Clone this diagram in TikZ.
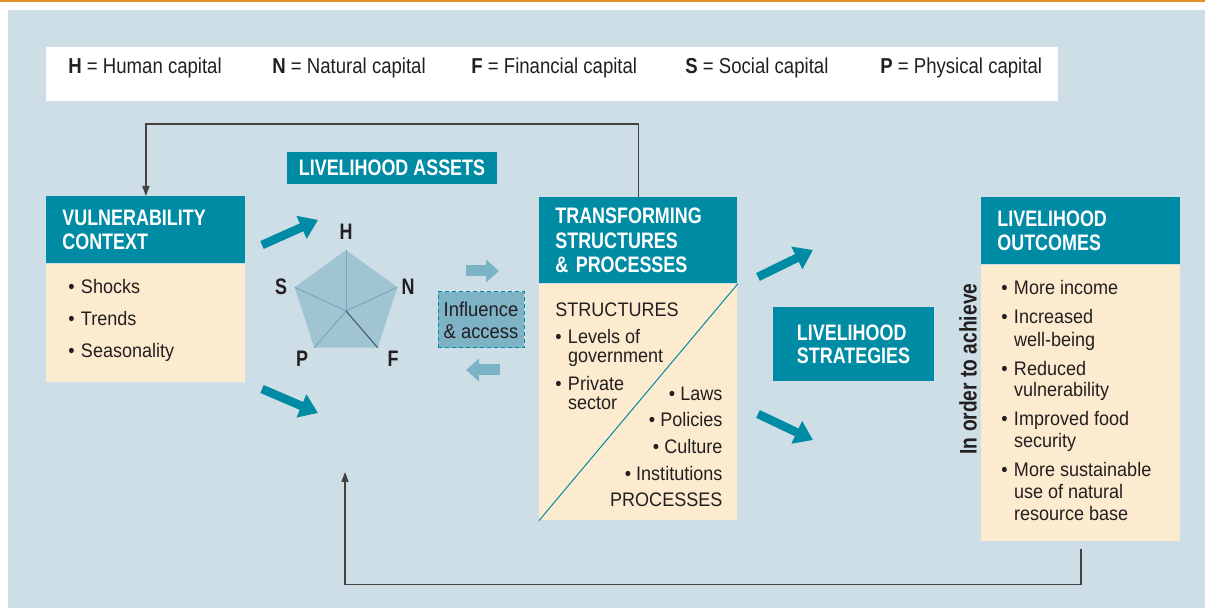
\documentclass[tikz,border=0pt]{standalone}
\usepackage{fontspec}
\setmainfont{Liberation Sans}[FakeStretch=0.92]
\newfontfamily\headfont{Liberation Sans}[FakeStretch=0.8]
\newfontfamily\legfont{Liberation Sans}[FakeStretch=0.86]
\usetikzlibrary{arrows.meta,positioning}

\definecolor{bgblue}{RGB}{205,222,230}
\definecolor{slteal}{RGB}{0,139,165}
\definecolor{cream}{RGB}{253,235,207}
\definecolor{pentfill}{RGB}{161,196,211}
\definecolor{pentline}{RGB}{118,168,189}
\definecolor{lightarr}{RGB}{122,178,198}
\definecolor{inflfill}{RGB}{126,178,197}
\definecolor{topline}{RGB}{231,141,39}
\definecolor{ink}{RGB}{35,31,32}

\newcommand{\bitem}{\makebox[6.3pt][l]{\textbullet}}
\newcommand{\bcont}{\hspace*{6.3pt}}

\begin{document}
\begin{tikzpicture}[x=0.5pt, y=-0.5pt,
    hdr/.style={fill=slteal, text=white, font=\headfont\bfseries\fontsize{11.2}{12.2}\selectfont, align=left, anchor=north west, inner xsep=8pt, inner ysep=0pt},
    body/.style={fill=cream, anchor=north west, inner sep=0pt},
    list/.style={text=ink, align=left, inner sep=0pt, anchor=north west},
    legitem/.style={text=ink, font=\legfont\fontsize{10.8}{12}\selectfont, anchor=base west, inner sep=0pt},
    caplabel/.style={text=ink, font=\headfont\bfseries\fontsize{11.2}{12}\selectfont},
    bigarrow/.style={slteal, line width=4.3pt, -{Triangle[length=9pt,width=12pt]}},
    lightarrow/.style={lightarr, line width=5.5pt, -{Triangle[length=6.5pt,width=11pt]}},
    fb/.style={draw=ink!85, line width=0.75pt, -{Triangle[length=5pt,width=3.5pt]}}]

    \useasboundingbox (0,0) rectangle (1205,608);
    \fill[white] (0,0) rectangle (1205,608);
    \fill[topline] (0,0) rectangle (1205,2.5);
    \fill[bgblue] (8,10) rectangle (1205,608);

    % legend
    \node[fill=white, anchor=north west, minimum width=506pt, minimum height=27pt, inner sep=0pt] (legend) at (46,47) {};
    \node[legitem] (leg-h) at (68,74) {\textbf{H} = Human capital};
    \node[legitem] (leg-n) at (272,74) {\textbf{N} = Natural capital};
    \node[legitem] (leg-f) at (471,74) {\textbf{F} = Financial capital};
    \node[legitem] (leg-s) at (685,74) {\textbf{S} = Social capital};
    \node[legitem] (leg-p) at (880,74) {\textbf{P} = Physical capital};

    % vulnerability context
    \node[hdr, text width=83.5pt, minimum height=33.5pt] (vulhd) at (46,196) {VULNERABILITY\\CONTEXT};
    \node[body, minimum width=99.5pt, minimum height=59pt] (vulbd) at (vulhd.south west) {};
    \node[list, font=\fontsize{9.8}{16}\selectfont] (vullist) at ([xshift=11pt, yshift=-7.8pt]vulbd.north west) {\bitem Shocks\\ \bitem Trends\\ \bitem Seasonality};

    % livelihood assets
    \node[fill=slteal, text=white, font=\headfont\bfseries\fontsize{11.2}{12}\selectfont, minimum width=105pt, minimum height=16pt, inner sep=0pt] (assets) at (392,168) {LIVELIHOOD ASSETS};

    \coordinate (ph) at (346,250);
    \coordinate (pn) at (397.4,287.3);
    \coordinate (pf) at (377.7,347.7);
    \coordinate (pp) at (314.3,347.7);
    \coordinate (ps) at (294.6,287.3);
    \coordinate (pc) at (346,311);
    \fill[pentfill] (ph) -- (pn) -- (pf) -- (pp) -- (ps) -- cycle;
    \draw[pentline, line width=0.5pt] (pc) -- (ph);
    \draw[pentline, line width=0.5pt] (pc) -- (pn);
    \draw[pentline, line width=0.5pt] (pc) -- (pp);
    \draw[pentline, line width=0.5pt] (pc) -- (ps);
    \draw[pentline!60!black, line width=0.6pt] (pc) -- (pf);
    \node[caplabel] (lab-h) at (346,232) {H};
    \node[caplabel] (lab-n) at (408,287) {N};
    \node[caplabel] (lab-f) at (393,359) {F};
    \node[caplabel] (lab-p) at (302,359) {P};
    \node[caplabel] (lab-s) at (281,287) {S};

    % influence and access
    \node[fill=inflfill, draw=slteal, dashed, dash pattern=on 2pt off 1.5pt, line width=0.5pt, minimum width=43pt, minimum height=28pt, inner sep=0pt, align=center, text=ink, font=\fontsize{10}{11}\selectfont] (infl) at (481,320) {Influence\\\& access};
    \coordinate (ia1) at (466,271);
    \coordinate (ia2) at (499,271);
    \coordinate (ib1) at (500,370);
    \coordinate (ib2) at (466,370);
    \draw[lightarrow] (ia1) -- (ia2);
    \draw[lightarrow] (ib1) -- (ib2);

    % transforming structures
    \node[hdr, text width=83pt, minimum height=43pt] (trhd) at (539,197) {TRANSFORMING\\STRUCTURES\\\& PROCESSES};
    \node[body, minimum width=99pt, minimum height=118pt] (trbd) at (trhd.south west) {};
    \draw[slteal, line width=0.5pt] (trbd.north east) -- (trbd.south west);
    \node[list, font=\fontsize{9.8}{9.6}\selectfont] (trleft) at ([xshift=8pt, yshift=-9.3pt]trbd.north west) {STRUCTURES\\[4pt] \bitem Levels of\\ \bcont government\\[4pt] \bitem Private\\ \bcont sector};
    \node[list, anchor=north east, align=right, font=\fontsize{9.8}{13.3}\selectfont] (trright) at ([xshift=-7.5pt, yshift=-51.3pt]trbd.north east) {\textbullet\ Laws\\ \textbullet\ Policies\\ \textbullet\ Culture\\ \textbullet\ Institutions\\ PROCESSES};

    % livelihood strategies
    \node[fill=slteal, text=white, font=\headfont\bfseries\fontsize{11.2}{11.6}\selectfont, align=left, minimum width=80.5pt, minimum height=37pt, inner sep=0pt] (strat) at (853.5,344) {LIVELIHOOD\\STRATEGIES};

    % livelihood outcomes
    \node[hdr, text width=83.5pt, minimum height=33.5pt] (outhd) at (981,197) {LIVELIHOOD\\OUTCOMES};
    \node[body, minimum width=99.5pt, minimum height=138pt] (outbd) at (outhd.south west) {};
    \node[list, font=\fontsize{9.8}{11}\selectfont] (outlist) at ([xshift=10pt, yshift=-7.8pt]outbd.north west) {\bitem More income\\[3.5pt] \bitem Increased\\ \bcont well-being\\[3.5pt] \bitem Reduced\\ \bcont vulnerability\\[3.5pt] \bitem Improved food\\ \bcont security\\[3.5pt] \bitem More sustainable\\ \bcont use of natural\\ \bcont resource base};
    \node[rotate=90, text=ink, font=\headfont\bfseries\fontsize{12}{12}\selectfont, inner sep=0pt] (achieve) at (968,369) {In order to achieve};

    % big arrows
    \coordinate (va1) at (262,245);
    \coordinate (va2) at (318,220);
    \coordinate (vb1) at (262,389);
    \coordinate (vb2) at (318,413);
    \coordinate (ta1) at (758,277);
    \coordinate (ta2) at (813,250);
    \coordinate (tb1) at (758,414);
    \coordinate (tb2) at (813,440);
    \draw[bigarrow] (va1) -- (va2);
    \draw[bigarrow] (vb1) -- (vb2);
    \draw[bigarrow] (ta1) -- (ta2);
    \draw[bigarrow] (tb1) -- (tb2);

    % feedback loops
    \draw[fb] (trhd.north) -- ++(0,-73) -| (vulhd.north);
    \coordinate (loopin) at (345,472);
    \draw[fb] ([yshift=-3.5pt]outbd.south) -- ++(0,36) -| (loopin);
\end{tikzpicture}
\end{document}
